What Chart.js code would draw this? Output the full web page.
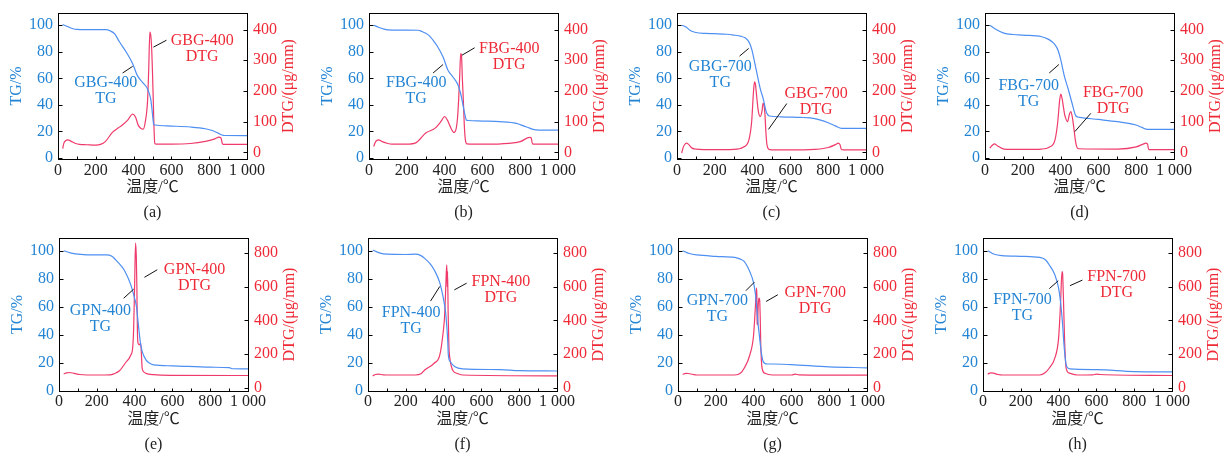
<!DOCTYPE html>
<html>
<head>
<meta charset="utf-8">
<script src="https://cdn.jsdelivr.net/npm/chart.js@4.4.1/dist/chart.umd.min.js"></script>
<style>
  body { margin: 0; background: #fff; }
  #wrap { position: relative; width: 1227px; height: 457px; overflow: hidden; }
  #wrap canvas { position: absolute; }
</style>
</head>
<body>
<div id="wrap"></div>
<script>
// axis ticks
const tempTicks = [0, 200, 400, 600, 800, 1000];
const tempMinorTicks = [100, 200, 300, 400, 500, 600, 700, 800, 900];
const tgTicks = [0, 20, 40, 60, 80, 100];
const dtgTicksBG = [0, 100, 200, 300, 400];
const dtgTicksPN = [0, 200, 400, 600, 800];

// [temperature °C, value] — TG in %, DTG in µg/mm
const gbg400Tg = [[25,100.5],[50,99],[80,97.3],[100,96.8],[150,96.6],[200,96.6],[254,96.6],[275,95.8],[300,93.5],[325,87.5],[360,80],[395,71],[420,62],[447,57],[474,52],[485,47.5],[491,44],[497,37],[502,30],[506,25.5],[512,24.8],[600,24],[700,23.3],[780,22],[820,20.5],[850,18.5],[868,17.3],[880,16.9],[1000,16.8]];
const gbg400Dtg = [[25,12],[30,28],[40,38],[53,41],[70,36],[90,30],[114,26],[150,25],[200,24],[225,26],[250,35],[289,66],[320,80],[342,90],[370,106],[395,125],[410,115],[425,88],[439,78],[451,76],[462,100],[474,170],[480,270],[486,392],[491,380],[496,333],[500,260],[504,171],[508,80],[512,30],[520,27],[600,27],[700,29],[780,36],[830,44],[851,50],[862,47],[869,30],[875,26],[1000,26]];

const fbg400Tg = [[25,100],[50,98.5],[80,97],[100,96.5],[150,96.3],[200,96.3],[260,96.2],[280,95.3],[300,94],[320,92],[339,88.7],[360,84.5],[392,76],[418,66],[444,61],[471,55],[480,51],[489,46],[497,40],[506,33.6],[515,28.6],[525,28.2],[600,27.8],[691,27.3],[780,26],[820,24],[850,22.5],[868,21.5],[900,21],[1000,21]];
const fbg400Dtg = [[25,19],[35,35],[50,41],[70,35],[100,29],[120,27],[200,27],[250,32],[300,63],[350,79],[380,100],[400,117],[415,105],[430,84],[450,65],[462,80],[469,117],[475,180],[480,250],[485,322],[489,318],[494,240],[499,171],[505,80],[510,41],[518,28],[600,27],[700,28],[800,35],[850,49],[858,47],[865,28],[880,27],[1000,27]];

const gbg700Tg = [[25,100],[50,98.5],[70,96],[100,94.5],[150,93.8],[200,93.6],[264,93.2],[300,92.6],[340,91.6],[360,90.5],[375,88.5],[387,85.5],[397,81],[405,76],[423,63.7],[440,52.4],[458,43.6],[468,37],[475,33.6],[489,31.6],[550,31],[650,30.5],[704,30.2],[760,28.5],[800,26.5],[840,24],[871,22.3],[1000,22.3]];
const gbg700Dtg = [[25,-2],[32,15],[40,25],[50,30],[60,27],[80,14],[100,11],[200,9],[300,10],[350,17],[380,40],[395,100],[405,200],[410,230],[415,222],[420,192],[430,135],[440,117],[450,135],[455,160],[460,155],[465,128],[470,70],[475,30],[480,15],[490,9],[550,8],[700,9],[800,16],[840,26],[852,30],[862,26],[870,10],[880,8],[1000,8]];

const fbg700Tg = [[25,100],[50,97.5],[100,94],[150,93],[200,92.5],[300,91.3],[334,89.5],[355,87.5],[372,85],[387,81],[400,74.5],[421,61],[442,51],[461,41],[481,31.6],[500,30.6],[600,29],[701,27.3],[760,26],[799,24.8],[830,23],[859,21.5],[1000,21.5]];
const fbg700Dtg = [[25,14],[40,24],[50,28],[65,22],[100,11],[200,10],[300,11],[340,17],[370,40],[385,100],[395,170],[401,190],[408,175],[420,128],[425,115],[437,100],[447,125],[454,133],[462,115],[470,80],[478,40],[485,19],[495,12],[700,11],[800,18],[840,28],[850,30],[860,27],[866,9],[880,9],[1000,9]];

const gpn400Tg = [[25,100],[60,98.5],[100,97.6],[200,97],[250,97],[280,96],[300,93.5],[330,89],[350,85],[380,75.6],[400,66],[410,60],[420,47],[430,35],[440,28],[460,22],[480,19.5],[500,18.4],[600,17.7],[800,16.7],[900,16.4],[920,15.6],[1000,15.5]];
const gpn400Dtg = [[25,82],[40,88],[55,90],[80,85],[110,78],[200,75],[270,76],[290,82],[320,100],[350,145],[380,194],[390,240],[395,353],[400,600],[405,859],[409,780],[412,600],[415,330],[418,264],[425,254],[432,264],[436,200],[440,115],[450,92],[460,85],[500,77],[600,73],[1000,72]];

const fpn400Tg = [[25,100.5],[60,98.5],[100,97.5],[200,97.3],[250,97.5],[280,96.5],[300,94.5],[330,90.5],[350,86.4],[380,77],[400,65],[410,56.6],[418,44],[422,35],[425,25.5],[435,20.8],[460,17],[500,15.5],[700,15],[800,14.2],[1000,14]];
const fpn400Dtg = [[25,70],[40,78],[55,80],[80,76],[100,75],[250,75],[280,82],[300,105],[350,145],[380,194],[400,353],[405,420],[410,552],[414,680],[417,730],[419,600],[421,690],[424,450],[428,250],[435,160],[440,130],[450,100],[470,85],[500,75],[1000,70]];

const gpn700Tg = [[25,100],[60,98],[100,97],[200,96],[300,95.2],[330,94],[350,92.4],[380,85],[400,77],[410,68.5],[420,54],[425,46],[430,40],[440,28],[450,21],[470,19],[500,19],[600,18.5],[800,17],[1000,16.3]];
const gpn700Dtg = [[25,78],[40,85],[55,84],[80,78],[100,75],[300,75],[330,85],[350,115],[380,194],[400,313],[410,492],[415,591],[417,560],[419,380],[421,373],[424,480],[428,532],[432,522],[435,420],[438,254],[445,115],[460,85],[500,75],[600,75],[620,80],[640,76],[1000,74]];

const fpn700Tg = [[25,100],[60,97.5],[100,96.5],[200,96],[300,95.2],[330,93.5],[350,90],[380,82.8],[400,73.3],[410,63.7],[420,49.4],[430,30.3],[440,18.4],[460,15.5],[600,15],[800,13.6],[1000,13.4]];
const fpn700Dtg = [[25,80],[40,88],[55,86],[80,78],[100,75],[300,75],[330,90],[350,115],[380,175],[400,294],[410,492],[418,690],[421,680],[425,552],[432,274],[440,115],[460,85],[500,75],[580,76],[600,80],[620,78],[1000,72]];

const FONT = '"Liberation Serif", "Times New Roman", "Noto Sans CJK SC", serif';
const TG_TEXT = '#2384d4';
const DTG_TEXT = '#ee2a37';
const TG_LINE = '#4e8ff2';
const DTG_LINE = '#ef3b6b';

// canvas of each row starts 17px above the plot box so the tick label
// padding Chart.js asks for never pushes the box down
const rows = [
  { top: -4, height: 232, xAxisH: 69, xTickPad: 2, tgMin: -0.8, tgMax: 109.2, dtgMin: -21.4, dtgMax: 453.8, dtgTicks: dtgTicksBG },
  { top: 221, height: 236, xAxisH: 66, xTickPad: 1, tgMin: -0.3, tgMax: 109.1, dtgMin: -20, dtgMax: 889, dtgTicks: dtgTicksPN }
];
const PAD_TOP = 17;

// label spots are given in (°C, TG %) units
const panels = [
  { tag: '(a)', name: 'GBG-400', tg: gbg400Tg, dtg: gbg400Dtg, row: 0, left: 0,
    tgLabel: [253, 56.4], dtgLabel: [763, 88], tgLeader: [[342, 64], [395, 69]], dtgLeader: [[505, 83.5], [574, 88.7]] },
  { tag: '(b)', name: 'FBG-400', tg: fbg400Tg, dtg: fbg400Dtg, row: 0, left: 311,
    tgLabel: [250, 56.6], dtgLabel: [742, 82.5], tgLeader: [[339, 64], [392, 70.4]], dtgLeader: [[492, 77.4], [559, 83]] },
  { tag: '(c)', name: 'GBG-700', tg: gbg700Tg, dtg: gbg700Dtg, row: 0, left: 619,
    tgLabel: [229, 68.7], dtgLabel: [736, 48], tgLeader: [[331, 76.7], [379, 82.5]], dtgLeader: [[484, 21.5], [581, 41]] },
  { tag: '(d)', name: 'FBG-700', tg: fbg700Tg, dtg: fbg700Dtg, row: 0, left: 927,
    tgLabel: [231, 54], dtgLabel: [678, 49], tgLeader: [[340, 64], [391, 70.4]], dtgLeader: [[475, 19.8], [560, 33.6]] },
  { tag: '(e)', name: 'GPN-400', tg: gpn400Tg, dtg: gpn400Dtg, row: 1, left: 1,
    tgLabel: [219, 57], dtgLabel: [717, 86.4], tgLeader: [[342, 66], [395, 72.5]], dtgLeader: [[452, 81], [520, 86.4]] },
  { tag: '(f)', name: 'FPN-400', tg: fpn400Tg, dtg: fpn400Dtg, row: 1, left: 310,
    tgLabel: [228, 55.4], dtgLabel: [703, 77.6], tgLeader: [[331, 64], [380, 74.5]], dtgLeader: [[457, 72], [522, 76.8]] },
  { tag: '(g)', name: 'GPN-700', tg: gpn700Tg, dtg: gpn700Dtg, row: 1, left: 620,
    tgLabel: [208, 64.4], dtgLabel: [726, 69.7], tgLeader: [[359, 71.4], [404, 77.5]], dtgLeader: [[466, 63.7], [528, 68.5]] },
  { tag: '(h)', name: 'FPN-700', tg: fpn700Tg, dtg: fpn700Dtg, row: 1, left: 925,
    tgLabel: [209, 64.6], dtgLabel: [707, 81.7], tgLeader: [[351, 72.9], [398, 78.5]], dtgLeader: [[460, 75], [526, 79]] }
];

const CANVAS_W = 300;
const LEFT_AXIS_W = 58;
const RIGHT_AXIS_W = 53;

function toPoints(pairs) {
  return pairs.map(([x, y]) => ({ x, y }));
}

function setTicks(values) {
  return (scale) => { scale.ticks = values.map(v => ({ value: v })); };
}

function fixedWidth(w) {
  return (scale) => { scale.width = w; };
}

// frame, inward ticks, titles, caption and curve labels
function decorPlugin(p, row) {
  return {
    id: 'decor',
    afterDraw(chart) {
      const ctx = chart.ctx;
      const a = chart.chartArea;
      const xs = chart.scales.x;
      const ys = chart.scales.y;
      const ys2 = chart.scales.y2;
      const L = Math.round(a.left) + 0.5, R = Math.round(a.right) + 0.5;
      const T = Math.round(a.top) + 0.5, B = Math.round(a.bottom) + 0.5;

      ctx.save();
      ctx.strokeStyle = '#000';
      ctx.lineWidth = 1;
      ctx.strokeRect(L, T, R - L, B - T);

      ctx.beginPath();
      tgTicks.forEach(v => {
        const y = Math.round(ys.getPixelForValue(v)) + 0.5;
        ctx.moveTo(L, y); ctx.lineTo(L + 4, y);
      });
      row.dtgTicks.forEach(v => {
        const y = Math.round(ys2.getPixelForValue(v)) + 0.5;
        ctx.moveTo(R, y); ctx.lineTo(R - 4, y);
      });
      tempMinorTicks.forEach(v => {
        const x = Math.round(xs.getPixelForValue(v)) + 0.5;
        ctx.moveTo(x, B); ctx.lineTo(x, B - 3);
      });
      ctx.stroke();

      ctx.font = '16px ' + FONT;
      ctx.textAlign = 'center';
      ctx.textBaseline = 'middle';
      const midY = (a.top + a.bottom) / 2;
      const midX = (a.left + a.right) / 2;

      ctx.save();
      ctx.translate(a.left - 41, midY);
      ctx.rotate(-Math.PI / 2);
      ctx.fillStyle = TG_TEXT;
      ctx.fillText('TG/%', 0, 0);
      ctx.restore();

      ctx.save();
      ctx.translate(a.right + 42, midY);
      ctx.rotate(-Math.PI / 2);
      ctx.fillStyle = DTG_TEXT;
      ctx.fillText('DTG/(μg/mm)', 0, 0);
      ctx.restore();

      ctx.fillStyle = '#222';
      ctx.fillText('温度/℃', midX, a.bottom + 29);
      ctx.fillText(p.tag, midX, a.bottom + 54);

      const px = (pt) => [xs.getPixelForValue(pt[0]), ys.getPixelForValue(pt[1])];

      ctx.beginPath();
      [p.tgLeader, p.dtgLeader].forEach(seg => {
        const [x1, y1] = px(seg[0]);
        const [x2, y2] = px(seg[1]);
        ctx.moveTo(x1, y1); ctx.lineTo(x2, y2);
      });
      ctx.strokeStyle = '#111';
      ctx.stroke();

      let [tx, ty] = px(p.tgLabel);
      ctx.fillStyle = TG_TEXT;
      ctx.fillText(p.name, tx, ty);
      ctx.fillText('TG', tx, ty + 16);

      [tx, ty] = px(p.dtgLabel);
      ctx.fillStyle = DTG_TEXT;
      ctx.fillText(p.name, tx, ty);
      ctx.fillText('DTG', tx, ty + 16);
      ctx.restore();
    }
  };
}

function buildPanel(p) {
  const row = rows[p.row];
  const canvas = document.createElement('canvas');
  canvas.width = CANVAS_W;
  canvas.height = row.height;
  canvas.style.left = p.left + 'px';
  canvas.style.top = row.top + 'px';
  canvas.style.width = CANVAS_W + 'px';
  canvas.style.height = row.height + 'px';
  document.getElementById('wrap').appendChild(canvas);

  const tickFont = { family: FONT, size: 16 };
  const noGrid = { display: false, drawTicks: false };

  new Chart(canvas, {
    type: 'line',
    data: {
      datasets: [
        {
          label: p.name + ' TG',
          data: toPoints(p.tg),
          yAxisID: 'y',
          borderColor: TG_LINE,
          borderWidth: 1.2,
          pointRadius: 0,
          cubicInterpolationMode: 'monotone',
          fill: false
        },
        {
          label: p.name + ' DTG',
          data: toPoints(p.dtg),
          yAxisID: 'y2',
          borderColor: DTG_LINE,
          borderWidth: 1.2,
          pointRadius: 0,
          cubicInterpolationMode: 'monotone',
          fill: false
        }
      ]
    },
    options: {
      responsive: false,
      animation: false,
      events: [],
      devicePixelRatio: 1,
      layout: { padding: { top: PAD_TOP, left: 0, right: 0, bottom: 0 } },
      plugins: {
        legend: { display: false },
        tooltip: { enabled: false }
      },
      scales: {
        x: {
          type: 'linear',
          min: 0,
          max: 1000,
          grid: noGrid,
          border: { display: false },
          afterBuildTicks: setTicks(tempTicks),
          afterFit: (s) => { s.height = row.xAxisH; },
          ticks: {
            autoSkip: false,
            maxRotation: 0,
            padding: row.xTickPad,
            color: '#222',
            font: tickFont,
            callback: (v) => v === 1000 ? '1 000' : String(v)
          }
        },
        y: {
          position: 'left',
          min: row.tgMin,
          max: row.tgMax,
          grid: noGrid,
          border: { display: false },
          afterBuildTicks: setTicks(tgTicks),
          afterFit: fixedWidth(LEFT_AXIS_W),
          ticks: { padding: 5, color: TG_TEXT, font: tickFont }
        },
        y2: {
          position: 'right',
          min: row.dtgMin,
          max: row.dtgMax,
          grid: noGrid,
          border: { display: false },
          afterBuildTicks: setTicks(row.dtgTicks),
          afterFit: fixedWidth(RIGHT_AXIS_W),
          ticks: { padding: 6, color: DTG_TEXT, font: tickFont }
        }
      }
    },
    plugins: [decorPlugin(p, row)]
  });
}

panels.forEach(buildPanel);
</script>
</body>
</html>
